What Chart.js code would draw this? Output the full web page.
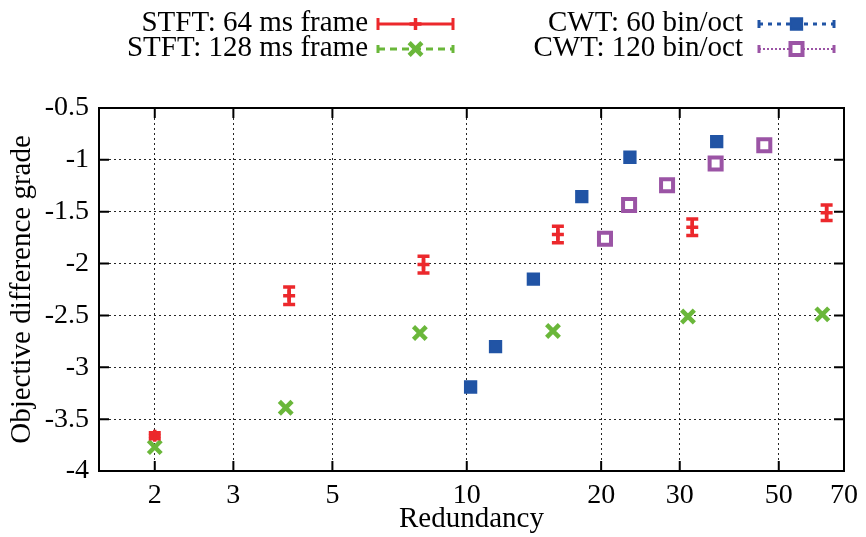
<!DOCTYPE html>
<html>
<head>
<meta charset="utf-8">
<script src="https://cdn.jsdelivr.net/npm/chart.js@4.4.0/dist/chart.umd.min.js"></script>
<style>
  html, body { margin: 0; padding: 0; background: white; }
  #wrap { width: 866px; height: 537px; }
</style>
</head>
<body>
<div id="wrap"><canvas id="odg"></canvas></div>
<script>
// values
const xTicks = [2, 3, 5, 10, 20, 30, 50, 70];
const yTicks = [-4, -3.5, -3, -2.5, -2, -1.5, -1, -0.5];

const stft64X = [2, 4, 8, 16, 32, 64];
const stft64Y = [-3.66, -2.31, -2.01, -1.72, -1.65, -1.51];
const stft64Err = [0.03, 0.085, 0.08, 0.08, 0.08, 0.075];

const stft128X = [2, 3.93, 7.85, 15.6, 31.3, 62.6];
const stft128Y = [-3.77, -3.39, -2.67, -2.65, -2.51, -2.49];

const cwt60X = [10.2, 11.6, 14.1, 18.1, 23.2, 36.3];
const cwt60Y = [-3.19, -2.8, -2.15, -1.355, -0.975, -0.825];

const cwt120X = [20.4, 23.1, 28.1, 36.1, 46.4];
const cwt120Y = [-1.76, -1.435, -1.245, -1.035, -0.86];

const labels = ["STFT: 64 ms frame", "STFT: 128 ms frame", "CWT: 60 bin/oct", "CWT: 120 bin/oct"];

const RED = 'rgb(236,40,44)';
const GREEN = 'rgb(106,183,58)';
const BLUE = 'rgb(33,84,165)';
const PURPLE = 'rgb(155,84,165)';
const FONT = '"Liberation Serif", "Times New Roman", serif';

function pts(xs, ys) {
    return xs.map((x, i) => ({x: x, y: ys[i]}));
}

// error bars (only the red series has visible ones)
var errorBars = {
    id: 'errorBars',
    afterDatasetsDraw: (chart) => {
        const {ctx, scales} = chart;
        chart.data.datasets.forEach((ds) => {
            if (!ds.errors) return;
            ctx.save();
            ctx.strokeStyle = ds.borderColor;
            ctx.lineWidth = 3.5;
            ds.data.forEach((p, i) => {
                const x = scales.x.getPixelForValue(p.x);
                const y1 = scales.y.getPixelForValue(p.y - ds.errors[i]);
                const y2 = scales.y.getPixelForValue(p.y + ds.errors[i]);
                ctx.beginPath();
                ctx.moveTo(x, y1); ctx.lineTo(x, y2);
                ctx.moveTo(x - 6, y1); ctx.lineTo(x + 6, y1);
                ctx.moveTo(x - 6, y2); ctx.lineTo(x + 6, y2);
                ctx.stroke();
            });
            ctx.restore();
        });
    }
};

// box round the plot with inward ticks, like gnuplot
var frame = {
    id: 'frame',
    afterDraw: (chart) => {
        const {ctx, chartArea: a, scales} = chart;
        ctx.save();
        ctx.strokeStyle = 'black';
        ctx.lineWidth = 2;
        ctx.strokeRect(a.left, a.top, a.right - a.left, a.bottom - a.top);
        ctx.beginPath();
        xTicks.forEach((v) => {
            const x = scales.x.getPixelForValue(v);
            ctx.moveTo(x, a.bottom); ctx.lineTo(x, a.bottom - 10);
            ctx.moveTo(x, a.top); ctx.lineTo(x, a.top + 10);
        });
        yTicks.forEach((v) => {
            const y = scales.y.getPixelForValue(v);
            ctx.moveTo(a.left, y); ctx.lineTo(a.left + 10, y);
            ctx.moveTo(a.right, y); ctx.lineTo(a.right - 10, y);
        });
        ctx.stroke();
        ctx.restore();
    }
};

// legend drawn as gnuplot keys: text right-aligned, sample to its right
var keyLegend = {
    id: 'keyLegend',
    afterDraw: (chart) => {
        const {ctx} = chart;
        const spots = [
            {tx: 368, x0: 378, x1: 453, y: 24},
            {tx: 368, x0: 378, x1: 453, y: 49},
            {tx: 743, x0: 759, x1: 834, y: 24},
            {tx: 743, x0: 759, x1: 834, y: 49}
        ];
        const dashes = [[], [7, 5], [4, 5], [2, 2]];
        const widths = [3, 3, 3, 2];
        ctx.save();
        chart.data.datasets.forEach((ds, i) => {
            const s = spots[i];
            ctx.fillStyle = 'black';
            ctx.font = '29px ' + FONT;
            ctx.textAlign = 'right';
            ctx.textBaseline = 'alphabetic';
            ctx.fillText(ds.label, s.tx, s.y + 7);
            ctx.strokeStyle = ds.borderColor;
            ctx.lineWidth = widths[i];
            ctx.setLineDash(dashes[i]);
            ctx.beginPath();
            ctx.moveTo(s.x0, s.y); ctx.lineTo(s.x1, s.y);
            ctx.stroke();
            ctx.setLineDash([]);
            ctx.lineWidth = 3;
            const cap = i === 0 ? 6 : 4;
            ctx.beginPath();
            ctx.moveTo(s.x0, s.y - cap); ctx.lineTo(s.x0, s.y + cap);
            ctx.moveTo(s.x1, s.y - cap); ctx.lineTo(s.x1, s.y + cap);
            ctx.stroke();
            ctx.fillStyle = ds.backgroundColor;
            ctx.strokeStyle = ds.borderColor;
            ctx.lineWidth = ds.borderWidth;
            Chart.helpers.drawPoint(ctx, {
                pointStyle: ds.pointStyle,
                radius: ds.pointRadius,
                borderWidth: ds.borderWidth,
                rotation: 0
            }, (s.x0 + s.x1) / 2, s.y);
        });
        ctx.restore();
    }
};

const odg = document.getElementById("odg");
new Chart(odg, {
    type: "scatter",
    data: {
        datasets: [{
            label: labels[0],
            data: pts(stft64X, stft64Y),
            errors: stft64Err,
            pointStyle: 'cross',
            pointRadius: 6,
            borderWidth: 3.5,
            borderColor: RED,
            backgroundColor: RED
        }, {
            label: labels[1],
            data: pts(stft128X, stft128Y),
            pointStyle: 'crossRot',
            pointRadius: 9,
            borderWidth: 4.5,
            borderColor: GREEN,
            backgroundColor: GREEN
        }, {
            label: labels[2],
            data: pts(cwt60X, cwt60Y),
            pointStyle: 'rect',
            pointRadius: 8,
            borderWidth: 2,
            borderColor: BLUE,
            backgroundColor: BLUE
        }, {
            label: labels[3],
            data: pts(cwt120X, cwt120Y),
            pointStyle: 'rect',
            pointRadius: 8.5,
            borderWidth: 4,
            borderColor: PURPLE,
            backgroundColor: 'white'
        }]
    },
    options: {
        responsive: true,
        maintainAspectRatio: false,
        animation: false,
        layout: {
            padding: {top: 108, right: 17, left: 0, bottom: 0}
        },
        plugins: {
            legend: {display: false},
            tooltip: {enabled: false}
        },
        scales: {
            x: {
                type: 'logarithmic',
                min: 1.5,
                max: 70,
                afterBuildTicks: (scale) => {
                    scale.ticks = xTicks.map((v) => ({value: v}));
                },
                afterFit: (scale) => { scale.height = 66; },
                ticks: {
                    color: 'black',
                    font: {family: FONT, size: 28},
                    padding: 8,
                    autoSkip: false,
                    maxRotation: 0,
                    callback: (v) => String(v)
                },
                grid: {
                    color: 'rgba(0,0,0,0.85)',
                    lineWidth: 1,
                    drawTicks: false
                },
                border: {display: false, dash: [2, 3]},
                title: {
                    display: true,
                    text: 'Redundancy',
                    color: 'black',
                    font: {family: FONT, size: 29},
                    padding: {top: 0, bottom: 0}
                }
            },
            y: {
                min: -4,
                max: -0.5,
                afterBuildTicks: (scale) => {
                    scale.ticks = yTicks.map((v) => ({value: v}));
                },
                afterFit: (scale) => { scale.width = 99; },
                ticks: {
                    color: 'black',
                    font: {family: FONT, size: 28},
                    padding: 10,
                    callback: (v) => String(v)
                },
                grid: {
                    color: 'rgba(0,0,0,0.85)',
                    lineWidth: 1,
                    drawTicks: false
                },
                border: {display: false, dash: [2, 3]},
                title: {
                    display: true,
                    text: 'Objective difference grade',
                    color: 'black',
                    font: {family: FONT, size: 29},
                    padding: {top: 5, bottom: 0}
                }
            }
        }
    },
    plugins: [errorBars, frame, keyLegend]
});
</script>
</body>
</html>
